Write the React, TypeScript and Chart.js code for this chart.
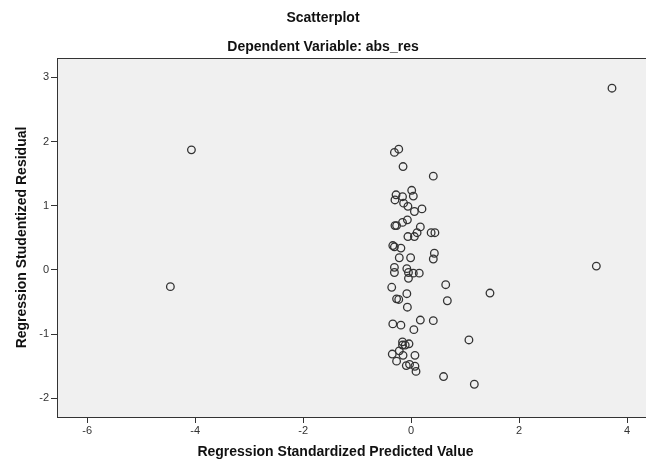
import React, { useEffect, useRef } from "react";
import { Chart, registerables } from "chart.js";

Chart.register(...registerables);

const titleMain = "Scatterplot";
const titleSub = "Dependent Variable: abs_res";
const xTitle = "Regression Standardized Predicted Value";
const yTitle = "Regression Studentized Residual";

// Regression Standardized Predicted Value
const predicted: number[] = [
  -4.07, -4.46, 3.72, 3.43, 1.46, 1.07, 1.17,
  -0.23, -0.31, -0.15, 0.41, 0.01, 0.04, -0.28, -0.16, -0.3, -0.14, -0.06, 0.06, 0.2,
  -0.07, -0.16, -0.27, -0.3, 0.17, 0.11, -0.06, 0.06, 0.37, 0.44, -0.34, -0.31, -0.19,
  0.43, 0.41, -0.22, -0.01,
  -0.31, -0.31, -0.08, -0.05, 0.04, 0.15, -0.05, 0.64, -0.36, -0.08, -0.27, -0.23, 0.67,
  -0.07, -0.34, -0.19, 0.17, 0.41, 0.05, -0.16, -0.16, -0.11, -0.04, -0.22, -0.35, -0.15,
  0.07, -0.27, -0.09, -0.03, 0.07, 0.09, 0.6,
];

// Regression Studentized Residual
const residual: number[] = [
  1.87, -0.26, 2.83, 0.06, -0.36, -1.09, -1.78,
  1.88, 1.83, 1.61, 1.46, 1.24, 1.15, 1.17, 1.14, 1.09, 1.04, 0.99, 0.91, 0.95,
  0.78, 0.74, 0.69, 0.69, 0.67, 0.58, 0.52, 0.52, 0.58, 0.58, 0.38, 0.36, 0.34,
  0.26, 0.17, 0.19, 0.19,
  0.04, -0.04, 0.02, -0.04, -0.05, -0.05, -0.13, -0.23, -0.27, -0.37, -0.45, -0.46, -0.48,
  -0.58, -0.84, -0.86, -0.78, -0.79, -0.93, -1.12, -1.17, -1.17, -1.15, -1.26, -1.31, -1.33,
  -1.33, -1.42, -1.49, -1.47, -1.5, -1.58, -1.66,
];

const xTicks = [-6, -4, -2, 0, 2, 4];
const yTicks = [-2, -1, 0, 1, 2, 3];

const FONT = "'Liberation Sans', Arial, sans-serif";

export default function App() {
  const ref = useRef<HTMLCanvasElement | null>(null);

  useEffect(() => {
    if (!ref.current) return;
    const pts = predicted.map((x, i) => ({ x, y: residual[i] }));

    const framePlugin = {
      id: "frame",
      beforeDatasetsDraw(chart: any) {
        const { ctx, chartArea: a } = chart;
        ctx.save();
        ctx.fillStyle = "#f0f0f0";
        ctx.fillRect(a.left, a.top, a.right - a.left, a.bottom - a.top);
        ctx.restore();
      },
      afterDraw(chart: any) {
        const { ctx, chartArea: a, width } = chart;
        ctx.save();
        ctx.strokeStyle = "#333333";
        ctx.lineWidth = 1;
        ctx.strokeRect(a.left + 0.5, a.top + 0.5, a.right - a.left, a.bottom - a.top);
        ctx.fillStyle = "#111111";
        ctx.textAlign = "center";
        ctx.textBaseline = "middle";
        ctx.font = `bold 14px ${FONT}`;
        ctx.fillText(titleMain, width / 2, 18);
        ctx.fillText(titleSub, width / 2, 47);
        ctx.fillText(xTitle, (a.left + a.right) / 2 - 16, 452);
        ctx.translate(22, (a.top + a.bottom) / 2);
        ctx.rotate(-Math.PI / 2);
        ctx.fillText(yTitle, 0, 0);
        ctx.restore();
      },
    };

    const chart = new Chart(ref.current, {
      type: "scatter",
      data: {
        datasets: [
          {
            data: pts,
            pointRadius: 3.8,
            pointHoverRadius: 3.8,
            pointBorderWidth: 1.3,
            pointBorderColor: "#333333",
            pointBackgroundColor: "rgba(0,0,0,0)",
          },
        ],
      },
      options: {
        animation: false,
        responsive: false,
        devicePixelRatio: 1,
        layout: { autoPadding: false, padding: { top: 58, right: 0, left: 0, bottom: 0 } },
        plugins: {
          legend: { display: false },
          tooltip: { enabled: false },
          title: { display: false },
        },
        scales: {
          x: {
            type: "linear",
            min: -6.56,
            max: 4.35,
            afterFit(scale: any) {
              scale.height = 45;
              scale.paddingLeft = 0;
              scale.paddingRight = 0;
            },
            afterBuildTicks(scale: any) {
              scale.ticks = xTicks.map((v) => ({ value: v }));
            },
            ticks: {
              includeBounds: false,
              color: "#333333",
              font: { family: FONT, size: 11 },
              padding: 1,
              maxRotation: 0,
              callback: (v: any) => String(v),
            },
            grid: {
              drawOnChartArea: false,
              drawTicks: true,
              tickLength: 6,
              color: "#333333",
            },
            border: { display: true, color: "#333333" },
          },
          y: {
            type: "linear",
            min: -2.29,
            max: 3.3,
            afterFit(scale: any) {
              scale.width = 57;
              scale.paddingTop = 0;
              scale.paddingBottom = 0;
            },
            afterBuildTicks(scale: any) {
              scale.ticks = yTicks.map((v) => ({ value: v }));
            },
            ticks: {
              includeBounds: false,
              color: "#333333",
              font: { family: FONT, size: 11 },
              padding: 2,
              callback: (v: any) => String(v),
            },
            grid: {
              drawOnChartArea: false,
              drawTicks: true,
              tickLength: 6,
              color: "#333333",
            },
            border: { display: true, color: "#333333" },
          },
        },
      },
      plugins: [framePlugin],
    });
    return () => chart.destroy();
  }, []);

  return (
    <div style={{ position: "fixed", left: 0, top: 0, width: 646, height: 462, background: "#fff" }}>
      <canvas ref={ref} width={646} height={462} style={{ width: 646, height: 462, display: "block" }} />
    </div>
  );
}
